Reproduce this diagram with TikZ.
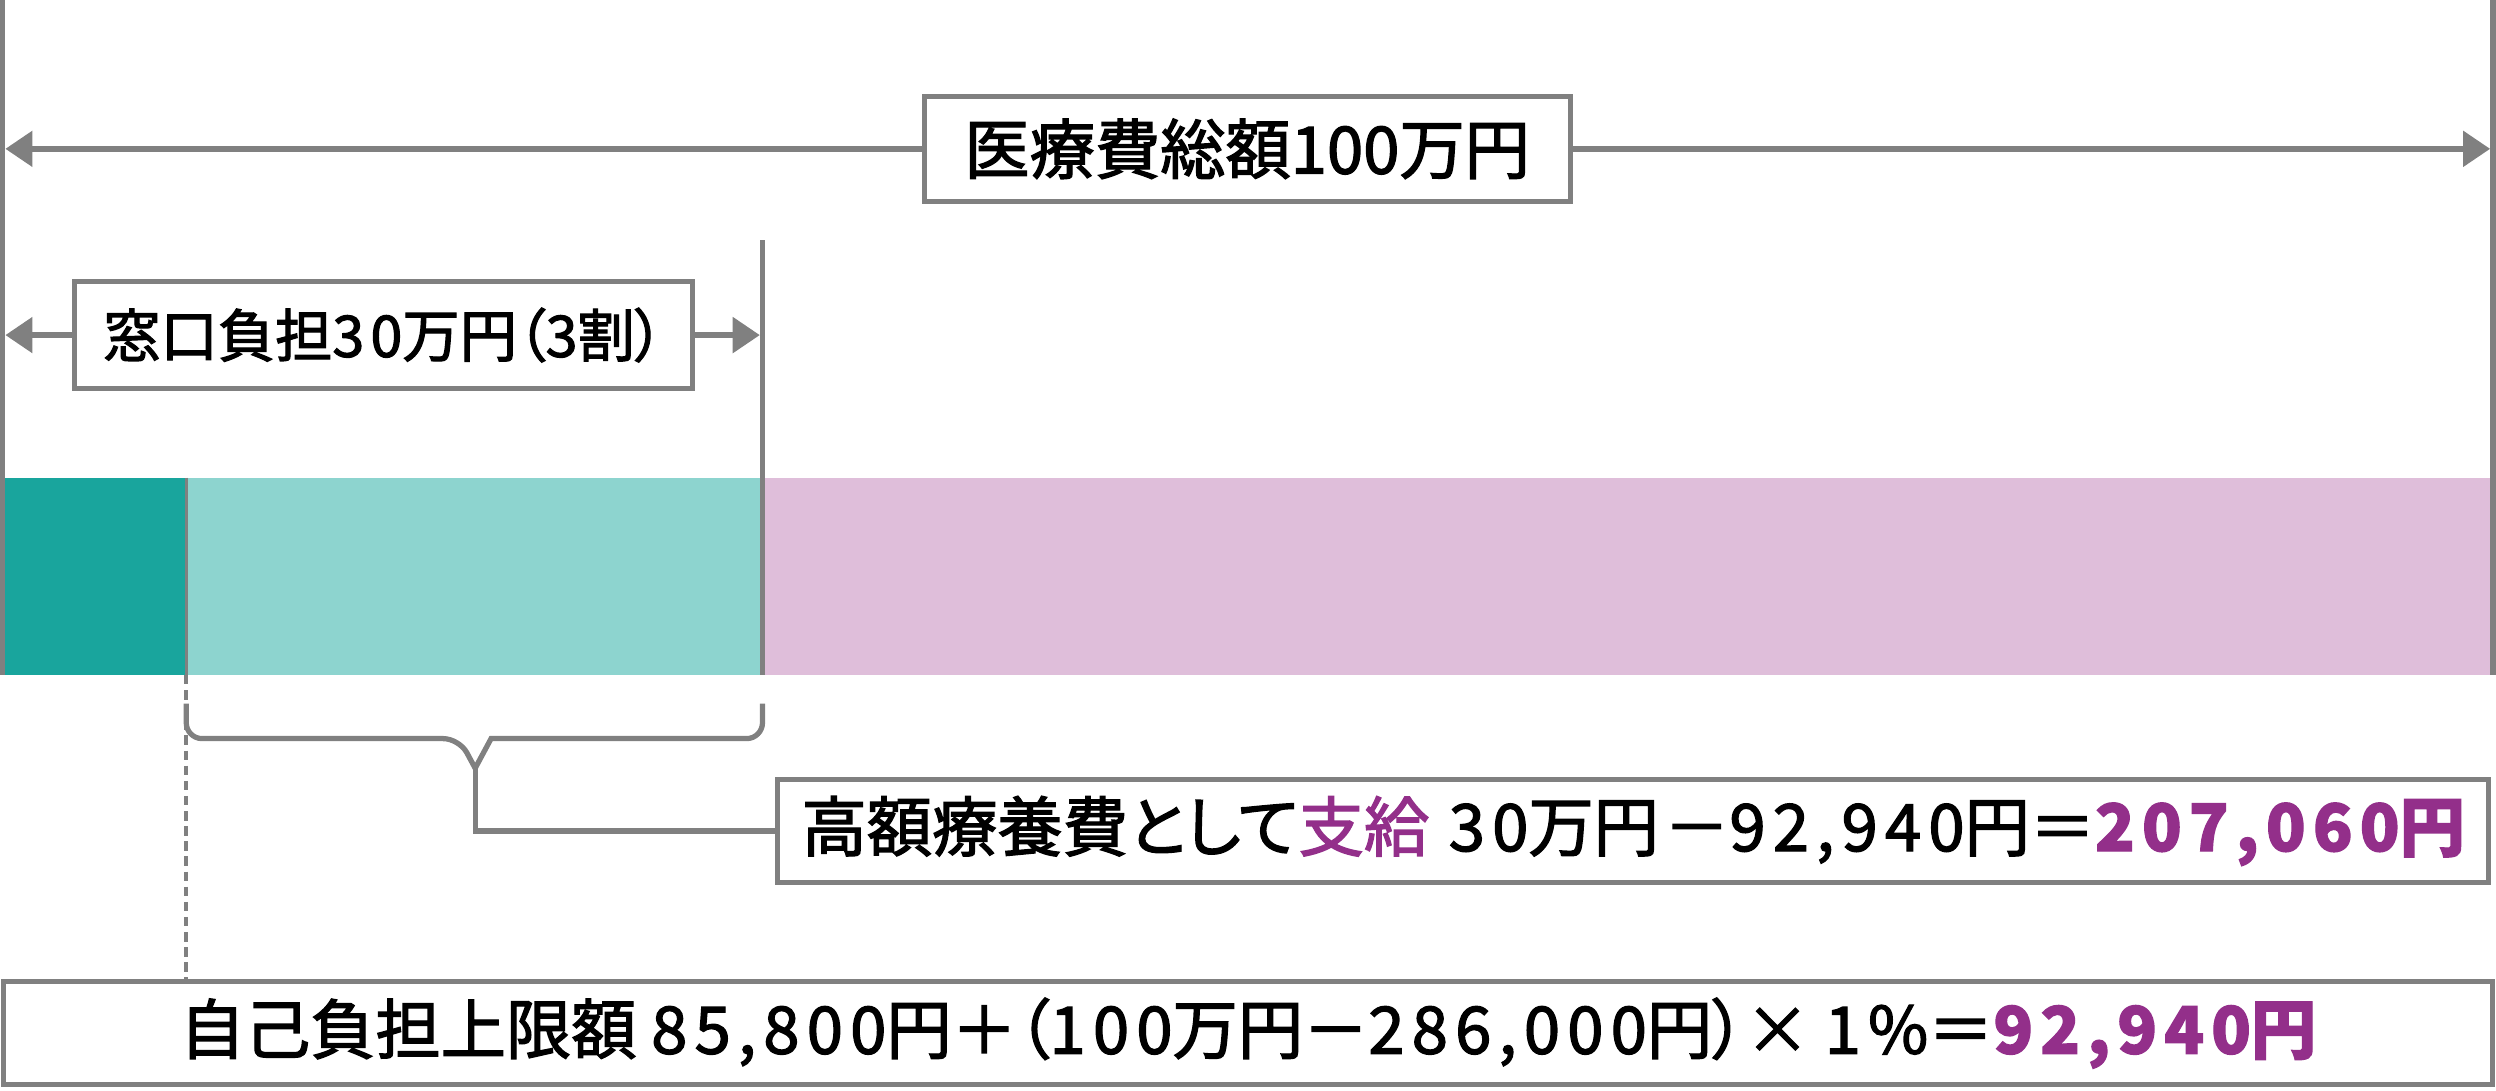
\documentclass[tikz,border=0pt]{standalone}
\usepackage{fontspec}
\setmainfont{Noto Sans CJK JP}[RawFeature={+palt;embolden=2}]
\usetikzlibrary{shapes, positioning, arrows.meta, fit}

\definecolor{linegray}{HTML}{808080}
\definecolor{darkteal}{HTML}{19A59D}
\definecolor{lightteal}{HTML}{8DD4CF}
\definecolor{lightpink}{HTML}{DFBEDA}
\definecolor{plum}{HTML}{932F8A}
\newcommand{\plumtext}[1]{{\color{plum}#1}}
\newcommand{\plumbold}[1]{{\color{plum}\bfseries #1}}
\newcommand{\amt}[1]{{\addfontfeature{LetterSpace=11}#1}}

\begin{document}
\begin{tikzpicture}[
          x=1pt, y=-1pt,
          gline/.style={draw=linegray, line width=3.4pt},
          dimline/.style={gline, {Triangle[length=17pt,width=22pt]}-{Triangle[length=17pt,width=22pt]}},
          tag/.style={draw=linegray, line width=3.2pt, fill=white, inner sep=0pt, font=\fontsize{41}{44}\selectfont}
        ]
        \useasboundingbox (0,0) rectangle (1568,685);
        % bar
        \fill[darkteal] (0,300) rectangle (117,424);
        \fill[lightteal] (117,300) rectangle (479,424);
        \fill[lightpink] (479,300) rectangle (1566,424);
        \coordinate (cut) at (117,424);
        \draw[linegray, line width=2pt] (117,300) -- (cut);
        % frame
        \coordinate (leftT) at (1.7,0);
        \coordinate (leftB) at (1.7,424);
        \coordinate (rightT) at (1566,0);
        \coordinate (rightB) at (1566,424);
        \coordinate (midT) at (479,151);
        \coordinate (midB) at (479,424);
        \draw[gline] (leftT) -- (leftB);
        \draw[gline] (rightT) -- (rightB);
        \draw[gline] (midT) -- (midB);
        % dimensions
        \coordinate (totalL) at (3.4,93.5);
        \coordinate (totalR) at (1564.3,93.5);
        \draw[dimline] (totalL) -- (totalR);
        \node[tag, minimum width=406pt, minimum height=66pt] (total) at (783.5,93.5) {医療費総額100万円};
        \coordinate (windowL) at (3.4,210.5);
        \coordinate (windowR) at (477.3,210.5);
        \draw[dimline] (windowL) -- (windowR);
        \node[tag, minimum width=388pt, minimum height=67pt, font=\fontsize{36}{40}\selectfont] (window) at (240.8,210.5) {窓口負担\amt{30}万円（\amt{3}割）};
        % boxes below
        \node[tag, minimum width=1075pt, minimum height=65pt] (refund) at (1026,522) {高額療養費として\plumtext{支給}\hspace{0.3em}\amt{30}万円\hspace{0.08em}－\amt{92,940}円＝\plumbold{\amt{207,060}円}};
        \node[tag, minimum width=1564pt, minimum height=65pt] (limit) at (784,649) {自己負担上限額 \amt{85,800}円＋（\amt{100}万円－\amt{286,000}円）× \amt{1\%}＝\plumbold{\amt{92,940}円}};
        % brace
        \draw[gline, line width=3.3pt] (117,442) [rounded corners=10pt] -- (117,464) -- (288.5,464) [sharp corners] -- (298.5,482.6) coordinate (tip) -- (308.5,464) [rounded corners=10pt] -- (479,464) -- (479,442);
        \draw[gline, line width=3.3pt] (tip) |- (refund.west);
        \draw[linegray, line width=2.8pt, dash pattern=on 6pt off 3.5pt] (cut) -- (cut |- limit.north);
\end{tikzpicture}
\end{document}
